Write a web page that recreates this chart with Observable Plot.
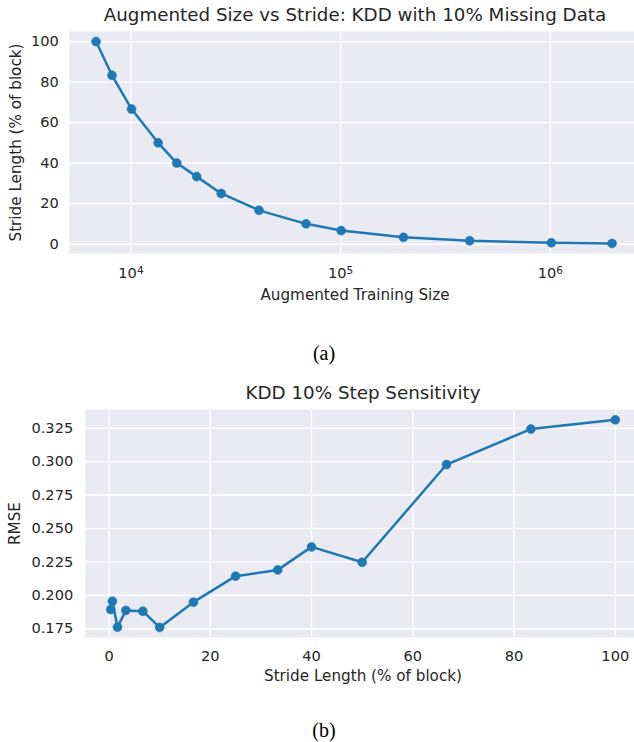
<!DOCTYPE html>
<html>
<head>
<meta charset="utf-8">
<script src="https://cdn.jsdelivr.net/npm/d3@7"></script>
<script src="https://cdn.jsdelivr.net/npm/@observablehq/plot@0.6"></script>
<style>
  html, body { margin: 0; padding: 0; background: #ffffff; overflow: hidden; }
  #wrap { position: relative; width: 634px; height: 742px; overflow: hidden; }
  .panel { position: absolute; left: 0; max-width: none !important; }
  .cap { position: absolute; font-family: "Liberation Serif", "DejaVu Serif", serif; font-size: 20px; color: #000; transform: translate(-50%, -50%); white-space: nowrap; }
</style>
</head>
<body>
<div id="wrap"></div>
<script>
// ---- Data: panel (a) Augmented size vs stride ----
const augSizes = [6818, 8122, 10066, 13484, 16540, 20584, 26940, 40820, 68420, 100560, 199400, 412400, 1011000, 1970000];
const augStrides = [100, 83.33, 66.67, 50, 40, 33.33, 25, 16.67, 10, 6.67, 3.33, 1.67, 0.67, 0.33];
const aXTicks = [1e4, 1e5, 1e6];
const aYTicks = [0, 20, 40, 60, 80, 100];

// ---- Data: panel (b) step sensitivity ----
const stepStrides = [0.33, 0.67, 1.67, 3.33, 6.67, 10, 16.67, 25, 33.33, 40, 50, 66.67, 83.33, 100];
const stepRmse = [0.1894, 0.1956, 0.1762, 0.1887, 0.1881, 0.1760, 0.1949, 0.2143, 0.2190, 0.2362, 0.2247, 0.2978, 0.3243, 0.3312];
const bXTicks = [0, 20, 40, 60, 80, 100];
const bYTicks = [0.175, 0.200, 0.225, 0.250, 0.275, 0.300, 0.325];

const titleA = "Augmented Size vs Stride: KDD with 10% Missing Data";
const titleB = "KDD 10% Step Sensitivity";
const xLabelA = "Augmented Training Size";
const yLabelA = "Stride Length (% of block)";
const xLabelB = "Stride Length (% of block)";
const yLabelB = "RMSE";

const dataA = augSizes.map((s, i) => ({size: s, stride: augStrides[i]}));
const dataB = stepStrides.map((s, i) => ({stride: s, rmse: stepRmse[i]}));

const BLUE = "#1f77b4";
const BG = "#eaeaf2";
const TXT = "#262626";
const sup = {"0":"⁰","1":"¹","2":"²","3":"³","4":"⁴","5":"⁵","6":"⁶","7":"⁷","8":"⁸","9":"⁹"};
const unsup = Object.fromEntries(Object.entries(sup).map(([k, v]) => [v, k]));
const logFmt = d => "10" + String(Math.round(Math.log10(d))).split("").map(c => sup[c]).join("");

const baseStyle = {fontFamily: "DejaVu Sans, sans-serif", fontSize: "14.6px", color: TXT, background: "transparent", overflow: "visible", maxWidth: "none"};
const grid = {stroke: "white", strokeOpacity: 1, strokeWidth: 1.3};
const lbl = {textAnchor: "middle", lineAnchor: "middle", fill: TXT};

const chartA = Plot.plot({
  width: 640, height: 320,
  marginTop: 31, marginBottom: 67, marginLeft: 69, marginRight: 0,
  style: baseStyle,
  x: {type: "log", domain: [Math.pow(10, 3.707), Math.pow(10, 6.43)]},
  y: {domain: [-4.65, 104.98]},
  marks: [
    Plot.frame({fill: BG, stroke: null}),
    Plot.gridX(aXTicks, grid),
    Plot.gridY(aYTicks, grid),
    Plot.axisX(aXTicks, {tickSize: 0, tickPadding: 14.4, tickFormat: logFmt, label: null, fill: TXT}),
    Plot.axisY(aYTicks, {tickSize: 0, tickPadding: 10.7, label: null, fill: TXT}),
    Plot.line(dataA, {x: "size", y: "stride", stroke: BLUE, strokeWidth: 2.5}),
    Plot.dot(dataA, {x: "size", y: "stride", r: 4.5, fill: BLUE, stroke: BLUE, strokeWidth: 0.5}),
    Plot.text([titleA], {...lbl, frameAnchor: "top", dy: -16, text: d => d, fontSize: 18.3}),
    Plot.text([xLabelA], {...lbl, frameAnchor: "bottom", dy: 42, text: d => d, fontSize: 15.2}),
    Plot.text([yLabelA], {...lbl, frameAnchor: "left", dx: -53, rotate: -90, text: d => d, fontSize: 15.2})
  ]
});

const chartB = Plot.plot({
  width: 640, height: 327,
  marginTop: 39, marginBottom: 60, marginLeft: 85, marginRight: 0,
  style: baseStyle,
  x: {domain: [-4.65, 104.98]},
  y: {domain: [0.16845, 0.33895]},
  marks: [
    Plot.frame({fill: BG, stroke: null}),
    Plot.gridX(bXTicks, grid),
    Plot.gridY(bYTicks, grid),
    Plot.axisX(bXTicks, {tickSize: 0, tickPadding: 13.2, label: null, fill: TXT}),
    Plot.axisY(bYTicks, {tickSize: 0, tickPadding: 12.3, tickFormat: d3.format(".3f"), label: null, fill: TXT}),
    Plot.line(dataB, {x: "stride", y: "rmse", stroke: BLUE, strokeWidth: 2.5}),
    Plot.dot(dataB, {x: "stride", y: "rmse", r: 4.5, fill: BLUE, stroke: BLUE, strokeWidth: 0.5}),
    Plot.text([titleB], {...lbl, frameAnchor: "top", dy: -16, text: d => d, fontSize: 18.3}),
    Plot.text([xLabelB], {...lbl, frameAnchor: "bottom", dy: 39, text: d => d, fontSize: 15.2}),
    Plot.text([yLabelB], {...lbl, frameAnchor: "left", dx: -70, rotate: -90, text: d => d, fontSize: 15.2})
  ]
});

// Render log tick exponents as real superscripts (mathtext-like)
d3.select(chartA).selectAll("text").each(function () {
  const t = this.textContent;
  if (/^10[⁰¹²³⁴⁵⁶⁷⁸⁹]+$/.test(t)) {
    const exp = t.slice(2).split("").map(c => unsup[c]).join("");
    const sel = d3.select(this);
    sel.text(null);
    sel.append("tspan").text("10");
    sel.append("tspan").attr("dy", "-0.42em").attr("font-size", "0.72em").text(exp);
  }
});

const wrap = document.getElementById("wrap");
for (const [c, top] of [[chartA, 0], [chartB, 370]]) {
  c.classList.add("panel");
  c.style.top = top + "px";
  c.style.maxWidth = "none";
  c.setAttribute("width", 640);
  c.style.width = "640px";
  wrap.appendChild(c);
}

const capA = document.createElement("div");
capA.className = "cap"; capA.textContent = "(a)";
capA.style.left = "324px"; capA.style.top = "353px";
const capB = document.createElement("div");
capB.className = "cap"; capB.textContent = "(b)";
capB.style.left = "324px"; capB.style.top = "730px";
wrap.appendChild(capA);
wrap.appendChild(capB);
</script>
</body>
</html>
